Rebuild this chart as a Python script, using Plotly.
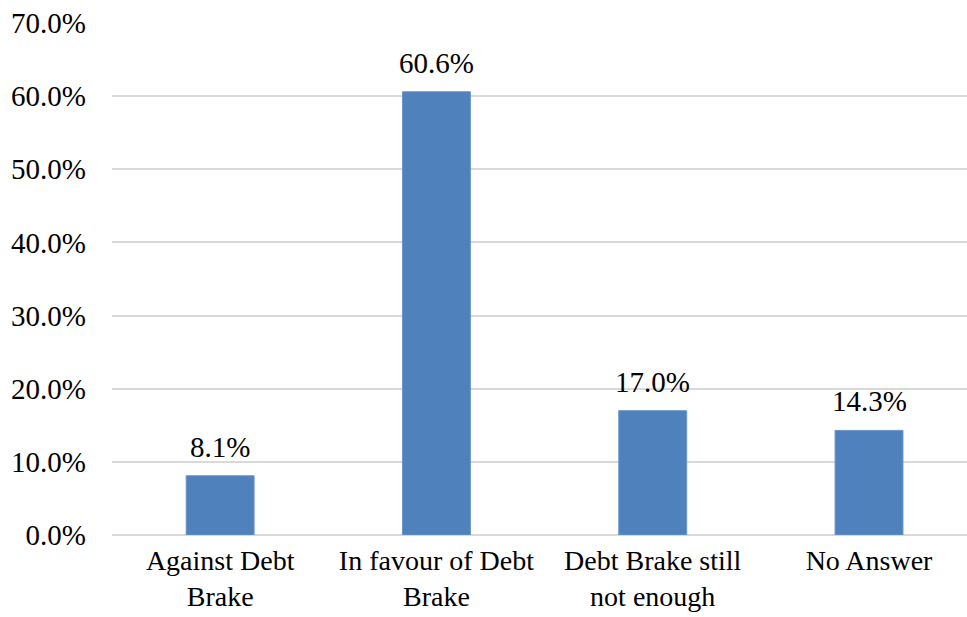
import plotly.graph_objects as go

categories = ["Against Debt<br>Brake", "In favour of Debt<br>Brake", "Debt Brake still<br>not enough", "No Answer"]
values = [0.081, 0.606, 0.170, 0.143]
labels = ["8.1%", "60.6%", "17.0%", "14.3%"]

FONT = "Liberation Serif"
FS = 29

fig = go.Figure()
fig.add_trace(go.Bar(
    x=categories, y=values, width=0.314,
    marker=dict(color="#4f81bd", line=dict(color="#6b96c9", width=1)),
    hoverinfo="skip",
))
for c, v, t in zip(categories, values, labels):
    fig.add_annotation(x=c, y=v, text=t, showarrow=False, yanchor="bottom",
                       yshift=11, font=dict(family=FONT, size=FS, color="black"))

fig.update_layout(
    width=967, height=617,
    margin=dict(l=112, r=0, t=23, b=82),
    paper_bgcolor="white", plot_bgcolor="white",
    showlegend=False,
    font=dict(family=FONT, size=FS, color="black"),
    xaxis=dict(range=[-0.5, 3.453], showgrid=False, showline=False, ticks="",
               automargin=False,
               tickfont=dict(family=FONT, size=28), ticklabelstandoff=6),
    yaxis=dict(range=[0, 0.7], dtick=0.1, tickformat=".1%", showgrid=True,
               automargin=False,
               gridcolor="#d9d9d9", gridwidth=1.5, zeroline=True,
               zerolinecolor="#d9d9d9", zerolinewidth=1.5, showline=False,
               ticks="", tickfont=dict(family=FONT, size=FS), ticklabelstandoff=25),
)
fig.write_html("out.html", config={"displayModeBar": False},
               post_script="document.body.style.margin='0';")
